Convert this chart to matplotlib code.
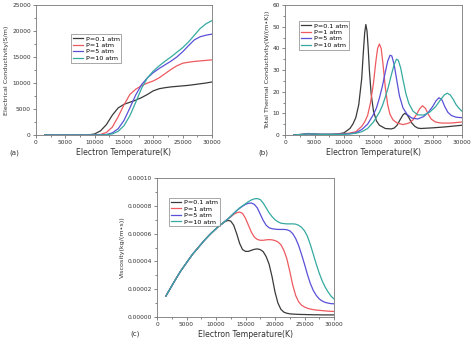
import matplotlib
matplotlib.use("Agg")
import matplotlib.pyplot as plt
from matplotlib.ticker import MultipleLocator, FormatStrFormatter

# ── data ──────────────────────────────────────────────────────────────────────
LABELS = ["P=0.1 atm", "P=1 atm", "P=5 atm", "P=10 atm"]
COLORS = ["#3a3a3a", "#ee5a60", "#5a50d8", "#35aaa0"]

# (a) electrical conductivity, S/m
T_A = [1500, 3000, 5000, 7000, 9000, 10000, 11000, 12000, 13000, 14000, 15000,
       16000, 17000, 18000, 19000, 20000, 21000, 22000, 23000, 24000, 25000,
       26000, 27000, 28000, 29000, 30000]
SIG_01 = [0, 0, 0, 0, 30, 200, 800, 2000, 3800, 5200, 5900,
          6300, 6700, 7200, 7800, 8500, 8900, 9100, 9250, 9350, 9450,
          9550, 9700, 9850, 10000, 10200]
SIG_1 = [0, 0, 0, 0, 0, 20, 100, 500, 1500, 3500, 5800,
         7800, 8800, 9500, 10000, 10400, 11000, 11800, 12600, 13300, 13800,
         14000, 14150, 14250, 14350, 14450]
SIG_5 = [0, 0, 0, 0, 0, 0, 30, 100, 400, 1200, 2800,
         5200, 7700, 9700, 11000, 12000, 12800, 13500, 14200, 15000, 16000,
         17200, 18300, 18900, 19200, 19400]
SIG_10 = [0, 0, 0, 0, 0, 0, 10, 50, 200, 700, 1800,
          3700, 6300, 9000, 11000, 12300, 13300, 14200, 15000, 15900, 16800,
          17900, 19200, 20500, 21400, 22000]

# (b) total thermal conductivity, W/(m*K)
T_B01 = [1500, 3000, 4000, 5000, 6000, 8000, 9000, 10000, 11000, 11500, 12000,
         12500, 13000, 13250, 13500, 13700, 13900, 14100, 14300, 14600, 15000,
         15500, 16000, 17000, 18000, 18500, 19000, 19500, 20000, 20300, 20700,
         21000, 21500, 22000, 22500, 23000, 25000, 27000, 30000]
K_01 = [0, 0.3, 0.7, 0.4, 0.3, 0.3, 0.5, 1, 3, 5, 8,
        14, 26, 37, 47, 51, 48, 40, 30, 19, 11,
        6.5, 4.5, 3, 2.8, 3.2, 4.5, 7, 9.3, 10, 9.3,
        8, 5.5, 4, 3.2, 3, 3.3, 3.7, 4.5]
T_B1 = [1500, 3000, 4000, 5000, 6000, 8000, 10000, 11000, 12000, 13000, 13500,
        14000, 14500, 15000, 15400, 15700, 16000, 16300, 16600, 17000, 17400,
        17800, 18300, 19000, 20000, 21000, 21700, 22300, 22800, 23300, 23800,
        24300, 24800, 25500, 26500, 28000, 30000]
K_1 = [0, 0.3, 0.6, 0.4, 0.3, 0.3, 0.6, 0.9, 1.5, 4, 6,
       9, 15, 24, 34, 40, 42, 40, 33, 22, 14,
       9.5, 7, 5.5, 4.8, 5.5, 7, 9.5, 12, 13.5, 12.3,
       9.5, 7.3, 6, 5.5, 5.5, 6]
T_B5 = [1500, 3000, 4000, 5000, 6000, 8000, 10000, 11000, 12000, 13000, 14000,
        15000, 15500, 16000, 16500, 17000, 17400, 17800, 18100, 18500, 18900,
        19400, 20000, 20700, 21500, 22500, 23500, 24300, 25000, 25600, 26100,
        26600, 27100, 27600, 28200, 29000, 30000]
K_5 = [0, 0.3, 0.5, 0.4, 0.3, 0.3, 0.4, 0.6, 1, 2.5, 5,
       9.5, 12.5, 17, 22.5, 29, 34, 36.8, 36.5, 32.5, 26,
       18, 12.5, 9.5, 7.8, 7.4, 8.5, 10.5, 13, 15.8, 17.2,
       16.2, 13, 10.5, 9, 8.2, 8]
T_B10 = [1500, 3000, 4000, 5000, 6000, 8000, 10000, 11000, 12000, 13000, 14000,
         15000, 16000, 16500, 17000, 17500, 18000, 18500, 18900, 19200, 19600,
         20000, 20500, 21000, 21700, 22500, 23500, 24500, 25500, 26300, 27000,
         27500, 28000, 28500, 29000, 29500, 30000]
K_10 = [0, 0.3, 0.5, 0.4, 0.3, 0.3, 0.3, 0.5, 0.8, 1.5, 3,
        6, 10.5, 13.5, 17.5, 22, 27.5, 32.5, 35, 34.5, 31,
        25.5, 19, 14.5, 11, 9.3, 9.2, 10.5, 13, 16, 18.5,
        19.3, 18.5, 16.5, 14, 12.3, 11]

# (c) viscosity, in units of 1e-5 kg/(m*s)
T_C = [1500, 3000, 4000, 5000, 6000, 7000, 8000, 9000, 10000,
       10500, 11000, 11500, 12000, 12500, 13000, 13500, 14000, 14500, 15000,
       15500, 16000, 16500, 17000, 17500, 18000, 18500, 19000, 19500, 20000,
       20500, 21000, 21500, 22000, 22500, 23000, 23500, 24000, 24500, 25000,
       25500, 26000, 26500, 27000, 27500, 28000, 28500, 29000, 29500, 30000]
MU_LOW = [1.5, 2.6, 3.3, 3.9, 4.5, 5.0, 5.5, 5.95, 6.35]
MU_01 = MU_LOW + [6.55, 6.7, 6.85, 6.95, 6.9, 6.6, 6.0, 5.3, 4.85, 4.72,
                  4.72, 4.8, 4.87, 4.9, 4.85, 4.7, 4.35, 3.8, 2.9, 1.8,
                  1.0, 0.55, 0.35, 0.27, 0.23, 0.21, 0.2, 0.19, 0.18, 0.18,
                  0.17, 0.17, 0.16, 0.16, 0.16, 0.15, 0.15, 0.15, 0.15, 0.15]
MU_1 = MU_LOW + [6.55, 6.7, 6.88, 7.05, 7.2, 7.38, 7.5, 7.55, 7.45, 7.1,
                 6.6, 6.1, 5.75, 5.58, 5.52, 5.52, 5.55, 5.57, 5.55, 5.5,
                 5.4, 5.2, 4.8, 4.2, 3.3, 2.3, 1.55, 1.1, 0.85, 0.72,
                 0.63, 0.57, 0.53, 0.5, 0.48, 0.46, 0.44, 0.42, 0.41, 0.4]
MU_5 = MU_LOW + [6.55, 6.7, 6.88, 7.05, 7.25, 7.45, 7.65, 7.82, 7.97, 8.1,
                 8.18, 8.2, 8.1, 7.85, 7.4, 6.95, 6.6, 6.42, 6.35, 6.32,
                 6.3, 6.3, 6.3, 6.28, 6.2, 6.0, 5.65, 5.15, 4.5, 3.8,
                 3.05, 2.4, 1.9, 1.55, 1.3, 1.15, 1.05, 1.0, 0.96, 0.95]
MU_10 = MU_LOW + [6.55, 6.7, 6.88, 7.05, 7.25, 7.45, 7.65, 7.85, 8.0, 8.15,
                  8.3, 8.42, 8.5, 8.52, 8.45, 8.2, 7.85, 7.5, 7.22, 7.0,
                  6.85, 6.75, 6.72, 6.7, 6.7, 6.7, 6.68, 6.6, 6.45, 6.2,
                  5.8, 5.2, 4.5, 3.8, 3.15, 2.6, 2.15, 1.8, 1.5, 1.3]

FS = 4.6


def style_axes(ax, ymax, ystep, fmt, ylabel, tag, tag_y, anchor):
    ax.set_xlim(0, 30000)
    ax.set_ylim(0, ymax)
    ax.xaxis.set_major_locator(MultipleLocator(5000))
    ax.xaxis.set_minor_locator(MultipleLocator(2500))
    ax.yaxis.set_major_locator(MultipleLocator(ystep))
    ax.yaxis.set_minor_locator(MultipleLocator(ystep / 2))
    ax.yaxis.set_major_formatter(FormatStrFormatter(fmt))
    ax.tick_params(which="both", labelsize=FS - 0.4, colors="#555555",
                   width=0.5, pad=1.5, labelcolor="#333333")
    ax.tick_params(which="major", length=2.2)
    ax.tick_params(which="minor", length=1.2)
    for s in ax.spines.values():
        s.set_linewidth(0.6)
        s.set_color("#777777")
    ax.set_xlabel("Electron Temperature(K)", fontsize=FS + 1, labelpad=2, color="#333333")
    ax.set_ylabel(ylabel, fontsize=FS, labelpad=2, color="#333333")
    ax.text(-0.15, tag_y, tag, transform=ax.transAxes, fontsize=FS + 0.5,
            color="#333333", va="center", ha="left")
    leg = ax.legend(loc="upper left", bbox_to_anchor=anchor, fontsize=FS,
                    frameon=True, fancybox=False, handlelength=1.6,
                    borderpad=0.3, labelspacing=0.15, handletextpad=0.4)
    leg.get_frame().set_edgecolor("#666666")
    leg.get_frame().set_linewidth(0.5)


fig = plt.figure(figsize=(4.75, 3.41), dpi=100, facecolor="white")
W, H = 475, 341
ax_a = fig.add_axes([36 / W, 1 - 135 / H, 176 / W, 130 / H])
ax_b = fig.add_axes([285 / W, 1 - 135 / H, 177 / W, 130 / H])
ax_c = fig.add_axes([157 / W, 1 - 317 / H, 177 / W, 139 / H])

for y, c, lab in zip([SIG_01, SIG_1, SIG_5, SIG_10], COLORS, LABELS):
    ax_a.plot(T_A, y, color=c, lw=0.9, label=lab)
style_axes(ax_a, 25000, 5000, "%d", "Electrical Conductivity(S/m)", "(a)", -0.14, (0.18, 0.8))

for t, y, c, lab in zip([T_B01, T_B1, T_B5, T_B10], [K_01, K_1, K_5, K_10], COLORS, LABELS):
    ax_b.plot(t, y, color=c, lw=0.9, label=lab)
style_axes(ax_b, 60, 10, "%d", "Total Thermal Conductivity(W/(m\u2022K))", "(b)", -0.14, (0.06, 0.9))

for y, c, lab in zip([MU_01, MU_1, MU_5, MU_10], COLORS, LABELS):
    ax_c.plot(T_C, [v * 1e-5 for v in y], color=c, lw=0.9, label=lab)
style_axes(ax_c, 0.0001, 0.00002, "%.5f", "Viscosity(kg/(m\u2022s))", "(c)", -0.12, (0.05, 0.88))
ax_c.yaxis.set_minor_locator(MultipleLocator(0.00001))

fig.savefig("out.png", dpi=100, facecolor="white")
